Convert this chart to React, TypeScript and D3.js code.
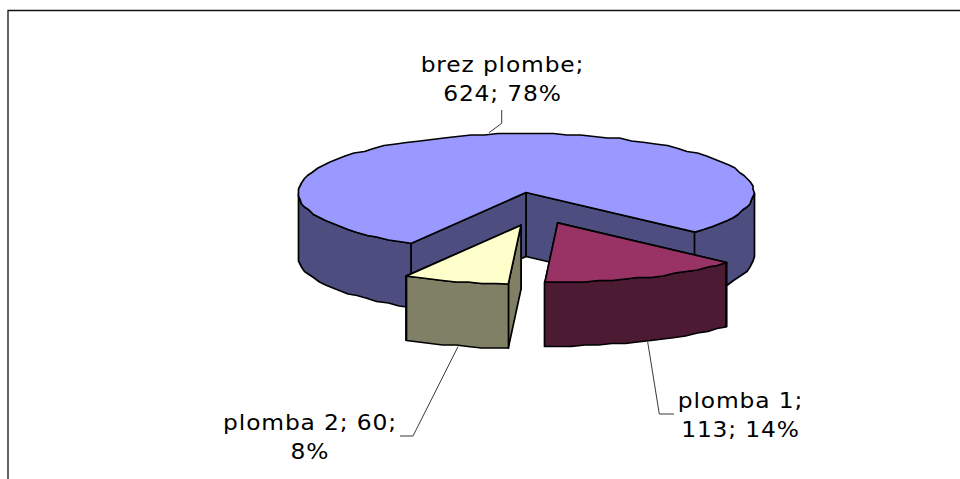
import React from "react";
import * as d3 from "d3";

const categories = ["brez plombe", "plomba 1", "plomba 2"];
const seriesValues = [624, 113, 60];
const percentLabels = ["78%", "14%", "8%"];
const topColors = ["#9999FF", "#993366", "#FFFFCC"];
const sideColors = ["#4D4D7F", "#4D1A33", "#808066"];
const explodeX = [0, 31.7, -5];
const explodeY = [0, 30.4, 32.7];
const labelLines = [
  [`${categories[0]};`, `${seriesValues[0]}; ${percentLabels[0]}`],
  [`${categories[1]};`, `${seriesValues[1]}; ${percentLabels[1]}`],
  [`${categories[2]}; ${seriesValues[2]};`, percentLabels[2]],
];
const labelCenterX = [502.5, 740.5, 310];
const labelBaseY = [72, 408, 430];
const leaders: [number, number][][] = [
  [[501.7, 110], [501.7, 123.3], [489, 132.7]],
  [[647.7, 342], [659.3, 414], [674, 414]],
  [[458, 346.7], [413, 436], [400, 436]],
];

const CX = 526, CY = 192.5, RX = 228, RY = 59, DEPTH = 64;
const START = (210.3 * Math.PI) / 180;
const STEP = (3.5 * Math.PI) / 180;
const GRID = 1.5;
const SCALE_X = 1.14;

const slices = d3
  .pie<number>()
  .sort(null)
  .startAngle(START)
  .endAngle(START + 2 * Math.PI)(seriesValues);

const line = d3.line<[number, number]>().curve(d3.curveLinear);
const snap = (v: number) => Math.round(v / GRID) * GRID;

function arcAngles(a0: number, a1: number) {
  const n = Math.max(1, Math.round((a1 - a0) / STEP));
  return d3.range(n + 1).map((i) => a0 + ((a1 - a0) * i) / n);
}

export default function App() {
  return (
    <svg
      width={960}
      height={479}
      style={{ position: "absolute", left: 0, top: 0, background: "#fff" }}
      fontFamily="'DejaVu Sans', Verdana, sans-serif"
    >
      <path d="M8 479V10.5H960" fill="none" stroke="#111" strokeWidth={1.3} />
      {slices.map((s, i) => {
        const ox = CX + explodeX[i];
        const oy = CY + explodeY[i];
        const pt = (a: number, dz = 0): [number, number] => [
          ox + RX * Math.sin(a),
          oy - RY * Math.cos(a) + dz,
        ];
        const rim = (a: number, dz = 0): [number, number] => {
          const p = pt(a, dz);
          return [snap(p[0]), snap(p[1])];
        };
        const angles = arcAngles(s.startAngle, s.endAngle);
        const corner0 = pt(s.startAngle);
        const corner1 = pt(s.endAngle);
        const topPts: [number, number][] = [[ox, oy], corner0, ...angles.slice(1, -1).map((a) => rim(a)), corner1];
        const runs: number[][] = [];
        let cur: number[] = [];
        angles.forEach((a) => {
          if (Math.cos(a) <= 0.02) cur.push(a);
          else if (cur.length) {
            runs.push(cur);
            cur = [];
          }
        });
        if (cur.length) runs.push(cur);
        const wall = (a: number): [number, number][] => [
          [ox, oy],
          pt(a),
          pt(a, DEPTH),
          [ox, oy + DEPTH],
        ];
        const wallAngles = [s.startAngle, s.endAngle].sort((a, b) => pt(a)[1] - pt(b)[1]);
        return (
          <g key={categories[i]} stroke="#000" strokeWidth={1.7} strokeLinejoin="round">
            {wallAngles.map((a, j) => (
              <path key={j} d={line(wall(a))! + "Z"} fill={sideColors[i]} />
            ))}
            {runs.map((r, j) => (
              <path
                key={j}
                d={line([...r.map((a) => rim(a)), ...r.slice().reverse().map((a) => rim(a, DEPTH))])! + "Z"}
                fill={sideColors[i]}
              />
            ))}
            <path d={line(topPts)! + "Z"} fill={topColors[i]} />
          </g>
        );
      })}
      {leaders.map((l, i) => (
        <path key={i} d={line(l)!} fill="none" stroke="#222" strokeWidth={0.9} />
      ))}
      {labelLines.map((lines, i) =>
        lines.map((t, j) => (
          <text
            key={t}
            transform={`translate(${labelCenterX[i]},${labelBaseY[i] + j * 29}) scale(${SCALE_X},1)`}
            textAnchor="middle"
            fontSize={20.5}
            letterSpacing={0.75}
            fill="#000"
          >
            {t}
          </text>
        ))
      )}
    </svg>
  );
}
